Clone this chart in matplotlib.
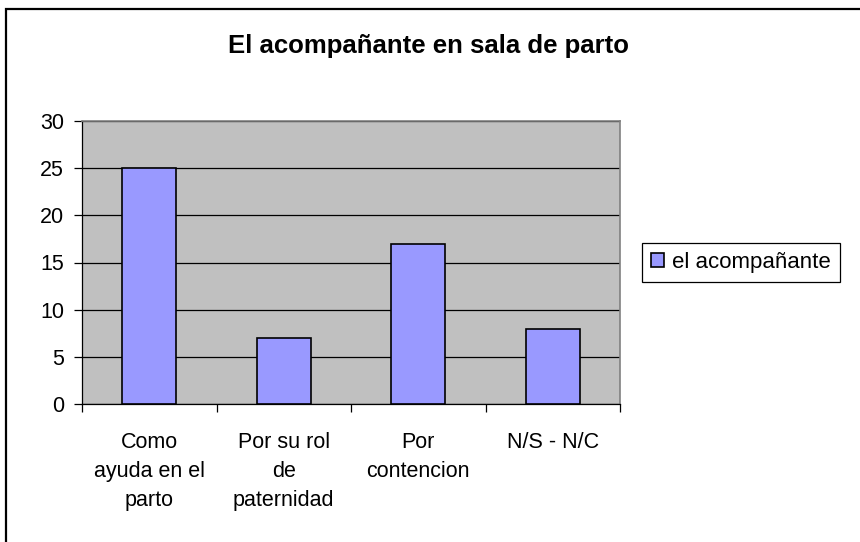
import matplotlib.pyplot as plt
from matplotlib.patches import Rectangle
from matplotlib.ticker import FixedLocator

# data
categories = ['Como\nayuda en el\nparto', 'Por su rol\nde\npaternidad', 'Por\ncontencion', 'N/S - N/C']
values = [25, 7, 17, 8]
series_name = 'el acompañante'
y_ticks = [0, 5, 10, 15, 20, 25, 30]

plt.rcParams['font.family'] = ['Liberation Sans', 'DejaVu Sans']

W, H = 860, 542
fig = plt.figure(figsize=(W / 100, H / 100), dpi=100)

# outer chart border (runs off the right/bottom edge like the original)
fig.patches.append(Rectangle((6 / W, -0.1), 1.2, 1 - 9 / H + 0.1, transform=fig.transFigure,
                             fill=False, edgecolor='black', linewidth=1.6))

ax = fig.add_axes([82 / W, 1 - 404 / H, 538 / W, (404 - 121) / H])
ax.set_facecolor('#C0C0C0')

x = list(range(len(categories)))
ax.bar(x, values, width=0.4, color='#9999FF', edgecolor='black', linewidth=1.2,
       label=series_name, zorder=3)

ax.set_xlim(-0.5, len(categories) - 0.5)
ax.set_ylim(0, 30)
ax.set_yticks(y_ticks)
ax.yaxis.grid(True, color='black', linewidth=0.9, zorder=1)
ax.set_axisbelow(True)

ax.set_xticks(x)
ax.set_xticklabels(categories, fontsize=15.5, linespacing=1.5, va='top')
ax.xaxis.set_minor_locator(FixedLocator([i - 0.5 for i in range(len(categories) + 1)]))
ax.tick_params(axis='x', which='major', length=0, pad=20)
ax.tick_params(axis='x', which='minor', length=6, width=0.9, direction='out')
ax.tick_params(axis='y', length=6, width=0.9, direction='out', labelsize=15.5, pad=7)

for s in ['top', 'right']:
    ax.spines[s].set_color('#808080')
    ax.spines[s].set_linewidth(1.2)
for s in ['left', 'bottom']:
    ax.spines[s].set_color('black')
    ax.spines[s].set_linewidth(0.9)

fig.text(428 / W, 1 - 46 / H, 'El acompañante en sala de parto', ha='center', va='center',
         fontsize=18.5, fontweight='bold')

leg = fig.legend(loc='upper left', bbox_to_anchor=(642 / W, 1 - 243 / H), borderaxespad=0,
                 fancybox=False, framealpha=1, edgecolor='black', fontsize=16,
                 handlelength=0.6, handleheight=0.6, handletextpad=0.35, borderpad=0.4)
leg.get_frame().set_linewidth(0.9)

fig.savefig('out.png', dpi=100)
